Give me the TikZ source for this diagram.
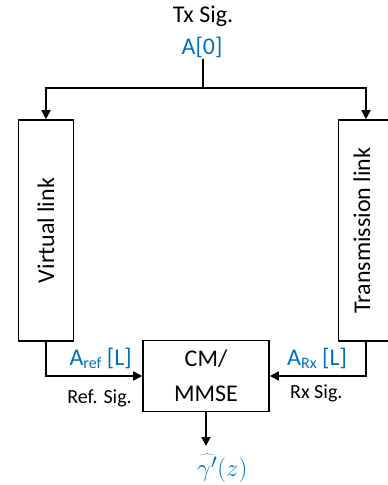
\documentclass[tikz,border=0pt]{standalone}
\usepackage{fontspec}
\setmainfont{Carlito}
\usetikzlibrary{arrows.meta}
\definecolor{ablue}{RGB}{0,112,192}
\begin{document}
\begin{tikzpicture}[x=1pt,y=-1pt,
  line/.style={line width=1.6pt},
  arr/.style={line,-{Triangle[length=9pt,width=9pt]}},
  box/.style={draw,line width=1.6pt,inner sep=0pt},
  big/.style={font=\fontsize{24}{35}\selectfont},
  small/.style={font=\fontsize{20}{24}\selectfont},
  sig/.style={text=ablue},
  lbl/.style={inner sep=0pt}]
\useasboundingbox (0,0) rectangle (388,485);
\clip (0,0) rectangle (388,485);
% top labels
\node[big,lbl,anchor=base] (tx) at (203,22) {Tx Sig.};
\node[big,sig,lbl,anchor=base] (a0) at (202,54) {A[0]};
\coordinate (top) at (203,59);
\coordinate (split) at (203,88);
% link boxes
\node[box,minimum width=55pt,minimum height=221pt] (vl) at (46,230.5) {};
\node[big,lbl,rotate=90] (vlt) at (vl.center) {Virtual link};
\node[box,minimum width=55pt,minimum height=221pt] (tl) at (366,230.5) {};
\node[big,lbl,rotate=90] (tlt) at (362,230.5) {Transmission link};
% combiner
\node[box,big,align=center,minimum width=126pt,minimum height=71pt] (cm) at (206,376) {CM/\\MMSE};
% connectors
\draw[line] (top) -- (split);
\draw[arr] (split) -| (vl.north);
\draw[arr] (split) -| (tl.north);
\draw[arr] (vl.south) |- (cm.west);
\draw[arr] (tl.south) |- (cm.east);
\coordinate (out) at (206,446);
\draw[arr] (cm.south) -- (out);
% signal labels
\node[big,sig,lbl,anchor=base east] (aref) at (132,365) {A\raisebox{-3pt}{\fontsize{16}{16}\selectfont ref} [L]};
\node[small,lbl,anchor=base east] (refs) at (132,403) {Ref. Sig.};
\node[big,sig,lbl,anchor=base west] (arx) at (287,365) {A\raisebox{-3pt}{\fontsize{16}{16}\selectfont Rx} [L]};
\node[small,lbl,anchor=base west] (rxs) at (290,398) {Rx Sig.};
\node[sig,lbl,anchor=base west,font=\fontsize{29}{32}\selectfont] (gam) at (197,476) {$\widehat{\gamma'}(z)$};
\end{tikzpicture}
\end{document}
